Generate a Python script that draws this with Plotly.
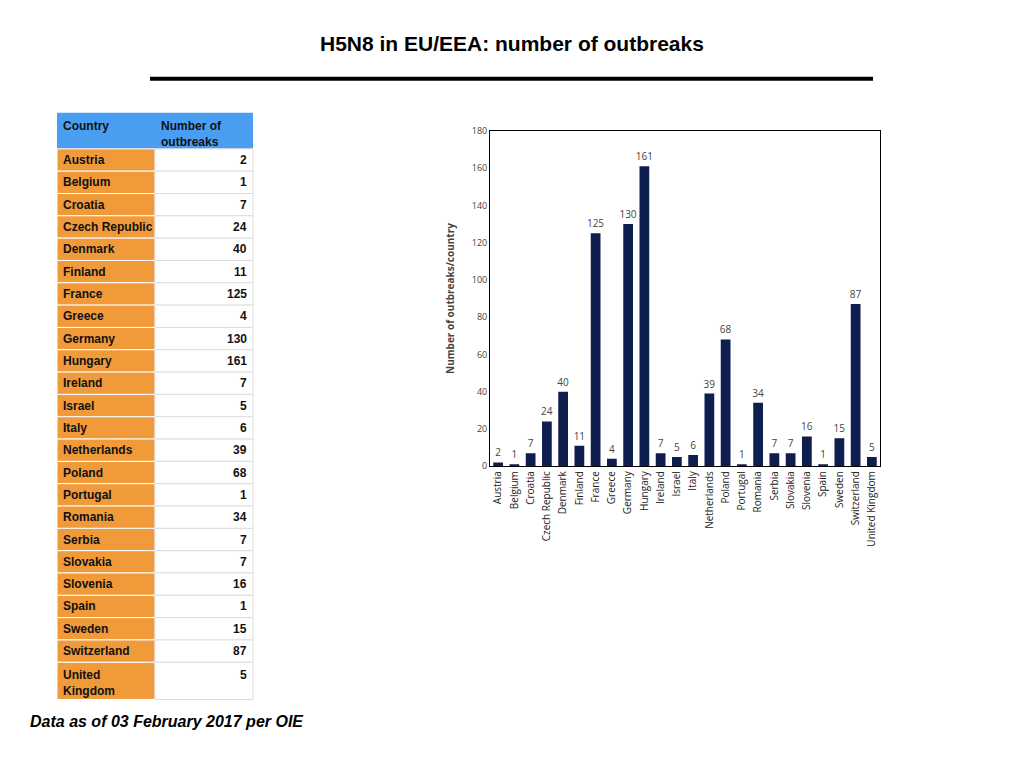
import plotly.graph_objects as go

countries = ["Austria","Belgium","Croatia","Czech Republic","Denmark","Finland","France","Greece","Germany","Hungary","Ireland","Israel","Italy","Netherlands","Poland","Portugal","Romania","Serbia","Slovakia","Slovenia","Spain","Sweden","Switzerland","United Kingdom"]
outbreaks = [2,1,7,24,40,11,125,4,130,161,7,5,6,39,68,1,34,7,7,16,1,15,87,5]
table_header = ["Country", "Number of<br>outbreaks"]

W, H = 1024, 768
def fx(p): return (p - 8) / W
def fy(p): return 1 - ((p - 14.3) / 0.982) / H

fig = go.Figure()
fig.add_trace(go.Bar(
    x=countries, y=outbreaks, marker_color="#0E1F4F", marker_line_width=0, width=0.6,
    text=outbreaks, textposition="outside", cliponaxis=False, constraintext="none",
    textfont=dict(family="Open Sans", size=10, color="#444")
))

shapes, annots = [], []
FONT = dict(family="Arial", size=12, color="#111")
x0, xm, x1 = 57, 155, 253
# header
shapes.append(dict(type="rect", xref="paper", yref="paper", x0=fx(x0), x1=fx(x1), y0=fy(148), y1=fy(112),
                   fillcolor="#4A9EF2", line_width=0, layer="below"))
annots.append(dict(text="<b>%s</b>" % table_header[0], x=fx(61), y=fy(116), xanchor="left", yanchor="top"))
annots.append(dict(text="<b>%s</b>" % table_header[1], x=fx(159), y=fy(116), xanchor="left", yanchor="top", align="left"))
step = 22.3
n = len(countries)
for i, (c, v) in enumerate(zip(countries, outbreaks)):
    top = 148 + i * step
    bot = 698 if i == n - 1 else top + step
    shapes.append(dict(type="rect", xref="paper", yref="paper", x0=fx(x0), x1=fx(xm), y0=fy(bot), y1=fy(top),
                       fillcolor="#F09A3A", line=dict(color="white", width=1), layer="below"))
    shapes.append(dict(type="rect", xref="paper", yref="paper", x0=fx(xm), x1=fx(x1), y0=fy(bot), y1=fy(top),
                       fillcolor="white", line=dict(color="#dddddd", width=1), layer="below"))
    label = c.replace(" ", "<br>") if c == "United Kingdom" else c
    if i == n - 1:
        annots.append(dict(text="<b>%s</b>" % label, x=fx(61), y=fy(top + 4), xanchor="left", yanchor="top", align="left"))
        annots.append(dict(text="<b>%d</b>" % v, x=fx(249), y=fy(top + 4), xanchor="right", yanchor="top"))
    else:
        mid = top + step / 2
        annots.append(dict(text="<b>%s</b>" % label, x=fx(61), y=fy(mid), xanchor="left", yanchor="middle"))
        annots.append(dict(text="<b>%d</b>" % v, x=fx(249), y=fy(mid), xanchor="right", yanchor="middle"))
for a in annots:
    a.update(xref="paper", yref="paper", showarrow=False, font=FONT)

annots.append(dict(text="<b>H5N8 in EU/EEA: number of outbreaks</b>", x=fx(512), y=fy(43), xref="paper", yref="paper",
                   xanchor="center", yanchor="middle", showarrow=False, font=dict(family="Arial", size=21, color="black")))
annots.append(dict(text="<b><i>Data as of 03 February 2017 per OIE</i></b>", x=fx(28), y=fy(720), xref="paper", yref="paper",
                   xanchor="left", yanchor="middle", showarrow=False, font=dict(family="Arial", size=16, color="black")))
shapes.append(dict(type="line", xref="paper", yref="paper", x0=fx(150), x1=fx(873), y0=fy(78), y1=fy(78),
                   line=dict(color="black", width=4)))

fig.update_layout(
    width=W, height=H, margin=dict(l=0, r=0, t=0, b=0),
    paper_bgcolor="white", plot_bgcolor="white", showlegend=False,
    xaxis=dict(domain=[fx(490), fx(880)], tickangle=-90, showline=True, mirror=True,
               linecolor="black", linewidth=1, ticks="",
               tickfont=dict(family="Open Sans", size=10, color="#222")),
    yaxis=dict(domain=[fy(465), fy(130)], range=[0, 180], dtick=20, showgrid=False, zeroline=False,
               showline=True, mirror=True, linecolor="black", linewidth=1,
               title=dict(text="<b>Number of outbreaks/country</b>", font=dict(family="Open Sans", size=10, color="#444")),
               tickfont=dict(family="Open Sans", size=9, color="#444")),
    annotations=annots, shapes=shapes
)
fig.write_html("out.html")
